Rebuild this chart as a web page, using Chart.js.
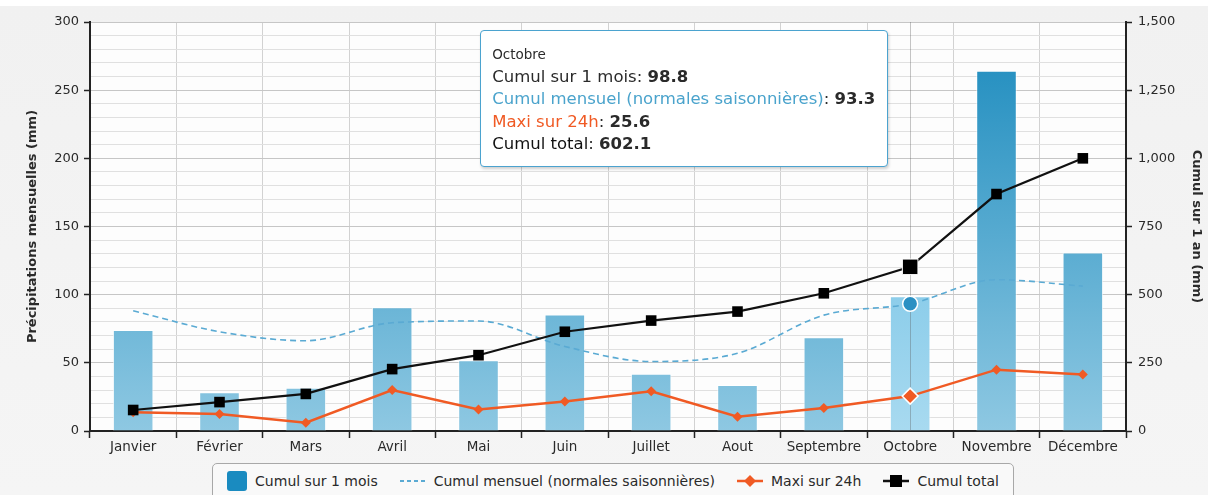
<!DOCTYPE html>
<html lang="fr">
<head>
<meta charset="utf-8">
<title>Précipitations mensuelles</title>
<script src="https://cdn.jsdelivr.net/npm/chart.js@4.4.1/dist/chart.umd.min.js"></script>
<style>
  html, body { margin: 0; padding: 0; background: #f3f3f3; }
  #wrap {
    position: relative; width: 1208px; height: 495px; overflow: hidden;
    background: linear-gradient(#ffffff 0, #ffffff 6px, #f1f1f1 6px, #f5f5f5 100%);
    font-family: "DejaVu Sans", sans-serif; color: #333;
  }
  #chart { position: absolute; left: 0; top: 0; }
  #tip {
    position: absolute; display: none; box-sizing: border-box;
    background: #fff; border: 1.5px solid #4ba3cf; border-radius: 4px;
    box-shadow: 1px 2px 3px rgba(0, 0, 0, 0.18);
    padding: 12px 12px 10px 11px; font-size: 16.5px; line-height: 22.5px;
    white-space: nowrap; color: #2a2a2a;
  }
  #tip .tt { font-size: 13.5px; }
  #tip b { font-weight: bold; }
  #legend {
    position: absolute; left: 212px; top: 463px; width: 802px; height: 38px;
    box-sizing: border-box; border: 1px solid #a8a8a8; border-radius: 5px;
    background: #f9f9f9; display: flex; align-items: center; justify-content: center;
    font-size: 14px; color: #2a2a2a; padding-bottom: 2px;
  }
  #legend .item { display: flex; align-items: center; margin: 0 11px; }
  #legend svg { margin-right: 8px; }
</style>
</head>
<body>
<div id="wrap">
  <canvas id="chart" width="1208" height="495"></canvas>
  <div id="tip"></div>
  <div id="legend"></div>
</div>
<script>
const months = ['Janvier', 'Février', 'Mars', 'Avril', 'Mai', 'Juin', 'Juillet', 'Aout', 'Septembre', 'Octobre', 'Novembre', 'Décembre'];
const cumulMois = [74.0, 28.5, 31.7, 90.8, 51.9, 85.5, 42.0, 33.7, 68.8, 98.8, 264.2, 131.0];
const normales = [88.2, 72.8, 66.2, 79.4, 80.7, 62.0, 51.0, 57.0, 85.0, 93.3, 111.0, 106.3];
const maxi24h = [13.7, 12.5, 6.1, 30.0, 15.8, 21.6, 29.1, 10.5, 16.9, 25.6, 45.0, 41.5];
const cumulTotal = [77, 106, 136, 227, 278, 364, 405, 438, 505, 602.1, 869, 1000];
const highlighted = 'Octobre';

Chart.defaults.font.family = '"DejaVu Sans", sans-serif';
Chart.defaults.color = '#333';

function barGradient(chart, top, bottom) {
  const area = chart.chartArea;
  if (!area) return bottom;
  const g = chart.ctx.createLinearGradient(0, area.top, 0, area.bottom);
  g.addColorStop(0, top);
  g.addColorStop(1, bottom);
  return g;
}

// plot background + crosshair behind the lines
const plotDecor = {
  id: 'plotDecor',
  beforeDraw(chart) {
    const { ctx, chartArea: a } = chart;
    ctx.save();
    ctx.fillStyle = '#fdfdfd';
    ctx.fillRect(a.left, a.top, a.right - a.left, a.bottom - a.top);
    ctx.restore();
  },
  afterDatasetDraw(chart, args) {
    if (args.meta.type !== 'bar') return;
    const act = chart.getActiveElements();
    if (!act.length) return;
    const x = act[0].element.x;
    const { ctx, chartArea: a } = chart;
    ctx.save();
    ctx.strokeStyle = 'rgba(90, 90, 90, 0.35)';
    ctx.lineWidth = 1;
    ctx.beginPath();
    ctx.moveTo(Math.round(x) + 0.5, a.top);
    ctx.lineTo(Math.round(x) + 0.5, a.bottom);
    ctx.stroke();
    ctx.restore();
  }
};

function renderTip({ chart, tooltip }) {
  const tip = document.getElementById('tip');
  if (tooltip.opacity === 0) { tip.style.display = 'none'; return; }
  const rows = tooltip.dataPoints.map(p =>
    `<div><span style="color:${p.dataset.tipColor}">${p.dataset.label}</span>: <b>${p.raw.toFixed(1)}</b></div>`);
  tip.innerHTML = `<div class="tt">${tooltip.title[0]}</div>` + rows.join('');
  tip.style.display = 'block';
  tip.style.left = (tooltip.caretX - tip.offsetWidth - 22) + 'px';
  tip.style.top = (chart.chartArea.top + 8) + 'px';
}

const chart = new Chart(document.getElementById('chart'), {
  type: 'bar',
  data: {
    labels: months,
    datasets: [
      {
        type: 'bar',
        label: 'Cumul sur 1 mois',
        data: cumulMois,
        yAxisID: 'y',
        order: 4,
        backgroundColor: c => barGradient(c.chart, '#1a8abd', '#8ec8e2'),
        hoverBackgroundColor: c => barGradient(c.chart, '#54b3de', '#a8daf0'),
        borderColor: 'rgba(255,255,255,0.7)',
        hoverBorderColor: 'rgba(255,255,255,0.7)',
        borderWidth: 1,
        barPercentage: 0.47,
        categoryPercentage: 1,
        tipColor: '#2a2a2a',
        swatch: 'box'
      },
      {
        type: 'line',
        label: 'Cumul mensuel (normales saisonnières)',
        data: normales,
        yAxisID: 'y',
        order: 3,
        borderColor: '#5aaad3',
        borderWidth: 1.6,
        borderDash: [6, 4],
        cubicInterpolationMode: 'monotone',
        pointRadius: 0,
        pointHoverRadius: 7.5,
        pointBackgroundColor: '#2b90c3',
        pointHoverBackgroundColor: '#2b90c3',
        pointHoverBorderColor: '#ffffff',
        pointHoverBorderWidth: 1.5,
        tipColor: '#4aa3cc',
        swatch: 'dash'
      },
      {
        type: 'line',
        label: 'Maxi sur 24h',
        data: maxi24h,
        yAxisID: 'y',
        order: 2,
        borderColor: '#f05a24',
        borderWidth: 2.5,
        pointStyle: 'rectRot',
        pointRadius: 5,
        pointBorderWidth: 0,
        pointBackgroundColor: '#f05a24',
        pointHoverRadius: 8,
        pointHoverBackgroundColor: '#f05a24',
        pointHoverBorderColor: '#ffffff',
        pointHoverBorderWidth: 1.5,
        tipColor: '#f05a24',
        swatch: 'diamond'
      },
      {
        type: 'line',
        label: 'Cumul total',
        data: cumulTotal,
        yAxisID: 'y1',
        order: 1,
        borderColor: '#111111',
        borderWidth: 2.2,
        pointStyle: 'rect',
        pointRadius: 7.5,
        pointBorderWidth: 0,
        pointBackgroundColor: '#000000',
        pointHoverRadius: 11,
        pointHoverBackgroundColor: '#000000',
        pointHoverBorderColor: '#ffffff',
        pointHoverBorderWidth: 1,
        tipColor: '#111',
        swatch: 'square'
      }
    ]
  },
  options: {
    responsive: false,
    animation: false,
    events: [],
    layout: { padding: { top: 22, right: 0, bottom: 34, left: 0 } },
    plugins: {
      legend: { display: false },
      tooltip: {
        enabled: false,
        mode: 'index',
        intersect: false,
        itemSort: (a, b) => a.datasetIndex - b.datasetIndex,
        external: renderTip
      }
    },
    scales: {
      x: {
        offset: true,
        grid: { offset: true, color: '#d2d2d2', tickColor: '#222', tickLength: 7, tickWidth: 1.5 },
        border: { color: '#222', width: 2 },
        ticks: { color: '#2a2a2a', font: { size: 13.5 }, padding: 1, autoSkip: false, maxRotation: 0 },
        afterFit: s => { s.height = 30; }
      },
      y: {
        position: 'left',
        min: 0,
        max: 300,
        ticks: {
          stepSize: 10, autoSkip: false, maxTicksLimit: 40, color: '#2a2a2a', font: { size: 13 }, padding: 5,
          callback: v => (v % 50 === 0 ? v : '')
        },
        grid: {
          color: c => (c.tick.value % 50 === 0 ? '#c6c6c6' : '#e0e0e0'),
          tickColor: c => (c.tick.value % 50 === 0 ? '#222' : 'rgba(0,0,0,0)'),
          tickLength: 6,
          tickWidth: 1.5
        },
        border: { color: '#222', width: 2 },
        title: {
          display: true, text: 'Précipitations mensuelles (mm)', color: '#2a2a2a',
          font: { size: 13, weight: 'bold' }, padding: { top: 25, bottom: 0 }
        },
        afterFit: s => { s.width = 90; }
      },
      y1: {
        position: 'right',
        min: 0,
        max: 1500,
        ticks: { stepSize: 250, color: '#2a2a2a', font: { size: 13 }, padding: 6 },
        grid: { drawOnChartArea: false, tickColor: '#222', tickLength: 6, tickWidth: 1.5 },
        border: { color: '#222', width: 2 },
        title: {
          display: true, text: 'Cumul sur 1 an (mm)', color: '#2a2a2a',
          font: { size: 13, weight: 'bold' }, padding: { top: 4, bottom: 0 }
        },
        afterFit: s => { s.width = 82; }
      }
    }
  },
  plugins: [plotDecor]
});

function swatchSvg(ds) {
  const c = ds.borderColor;
  switch (ds.swatch) {
    case 'box':
      return '<svg width="20" height="20"><rect x="0" y="0" width="20" height="20" rx="3" fill="#1a8bc0"/></svg>';
    case 'dash':
      return `<svg width="26" height="20"><line x1="0" y1="10" x2="26" y2="10" stroke="${c}" stroke-width="2" stroke-dasharray="4 3"/></svg>`;
    case 'diamond':
      return `<svg width="26" height="20"><line x1="0" y1="10" x2="26" y2="10" stroke="${c}" stroke-width="2.5"/><path d="M13 4 L19 10 L13 16 L7 10 Z" fill="${c}"/></svg>`;
    default:
      return `<svg width="26" height="20"><line x1="0" y1="10" x2="26" y2="10" stroke="${c}" stroke-width="2.5"/><rect x="7" y="4" width="12" height="12" fill="#000"/></svg>`;
  }
}

document.getElementById('legend').innerHTML = chart.data.datasets
  .map(ds => `<div class="item">${swatchSvg(ds)}<span>${ds.label}</span></div>`)
  .join('');

const idx = months.indexOf(highlighted);
const active = chart.data.datasets.map((ds, i) => ({ datasetIndex: i, index: idx }));
chart.setActiveElements(active);
chart.tooltip.setActiveElements(active, { x: 0, y: 0 });
chart.render();
</script>
</body>
</html>
